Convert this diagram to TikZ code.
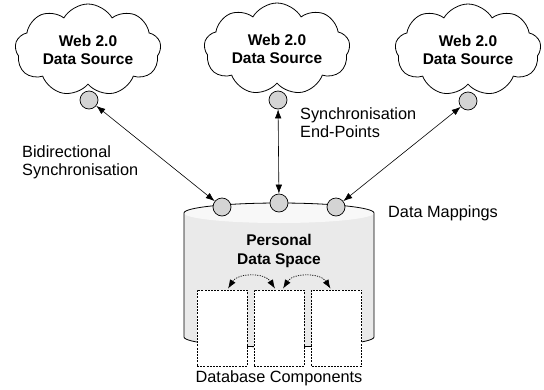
\documentclass[tikz,border=0pt]{standalone}
\usepackage{fontspec}
\setmainfont{Liberation Sans}
\usetikzlibrary{shapes.symbols,arrows.meta,calc}
\definecolor{circfill}{RGB}{212,212,212}
\definecolor{bodyfill}{RGB}{234,234,234}
\definecolor{topfill}{RGB}{248,248,248}
\tikzset{
  cloudbox/.style={cloud, cloud puffs=9, cloud puff arc=120, cloud ignores aspect,
    draw=black, line width=0.8pt, fill=white, minimum width=146pt, minimum height=92pt,
    inner sep=0pt, align=center, font=\fontsize{15.5}{17.5}\selectfont\bfseries},
  endpoint/.style={circle, draw=black, line width=0.7pt, fill=circfill, minimum size=18pt, inner sep=0pt},
  link/.style={line width=0.6pt, {Latex[length=9pt,width=6.5pt]}-{Latex[length=9pt,width=6.5pt]}},
  comp/.style={draw=black, line width=0.7pt, dash pattern=on 2pt off 1.2pt, fill=white,
    minimum width=50pt, minimum height=76pt, inner sep=0pt},
  maplink/.style={line width=0.7pt, dash pattern=on 1.2pt off 1.2pt,
    {Latex[length=9pt,width=6.5pt]}-{Latex[length=9pt,width=6.5pt]}},
  lbl/.style={align=left, inner sep=0pt, font=\fontsize{16.3}{18.5}\selectfont},
}
\begin{document}
\begin{tikzpicture}[x=1pt,y=-1pt]
\useasboundingbox (0,0) rectangle (544,389);
% clouds
\node[cloudbox] (c1) at (88,50) {Web 2.0\\Data Source};
\node[cloudbox] (c2) at (277,49) {Web 2.0\\Data Source};
\node[cloudbox] (c3) at (468,50) {Web 2.0\\Data Source};
% cylinder
\fill[bodyfill] (184,213) -- (184,337) arc[start angle=180,end angle=0,x radius=95,y radius=10]
  -- (374,213) arc[start angle=0,end angle=-180,x radius=95,y radius=10] -- cycle;
\fill[topfill] (279,213) ellipse[x radius=95,y radius=10];
\draw[line width=0.8pt] (184,213) -- (184,337) arc[start angle=180,end angle=0,x radius=95,y radius=10]
  -- (374,213) arc[start angle=360,end angle=180,x radius=95,y radius=10];
\node[font=\fontsize{15.5}{19.5}\selectfont\bfseries, align=center] (pds) at (279,251) {Personal\\Data Space};
% components
\node[comp] (d1) at (222,328) {};
\node[comp] (d2) at (279,328) {};
\node[comp] (d3) at (336.5,328) {};
\node[font=\fontsize{16.3}{18}\selectfont] (dbc) at (279,378) {Database Components};
\coordinate (m1a) at ($(d1.north)+(6,-1)$);
\coordinate (m1b) at ($(d2.north)+(-4,-1)$);
\coordinate (m2a) at ($(d2.north)+(4,-1)$);
\coordinate (m2b) at ($(d3.north)+(-6,-1)$);
\draw[maplink] (m1a) .. controls ($(m1a)+(10,-16)$) and ($(m1b)+(-10,-16)$) .. (m1b);
\draw[maplink] (m2a) .. controls ($(m2a)+(10,-16)$) and ($(m2b)+(-10,-16)$) .. (m2b);
% endpoints
\node[endpoint] (t1) at (89,100) {};
\node[endpoint] (t2) at (278,100) {};
\node[endpoint] (t3) at (468,101) {};
\node[endpoint] (b1) at (222,207) {};
\node[endpoint] (b2) at (279,203) {};
\node[endpoint] (b3) at (336,207) {};
\draw[link] (t1) -- (b1);
\draw[link] (t2) -- (b2);
\draw[link] (t3) -- (b3);
% labels
\node[lbl, anchor=north west] (lb1) at (22,145) {Bidirectional\\Synchronisation};
\node[lbl, anchor=north west] (lb2) at (300,107) {Synchronisation\\End-Points};
\node[lbl, anchor=west] (lb3) at (388,213) {Data Mappings};
\end{tikzpicture}
\end{document}
